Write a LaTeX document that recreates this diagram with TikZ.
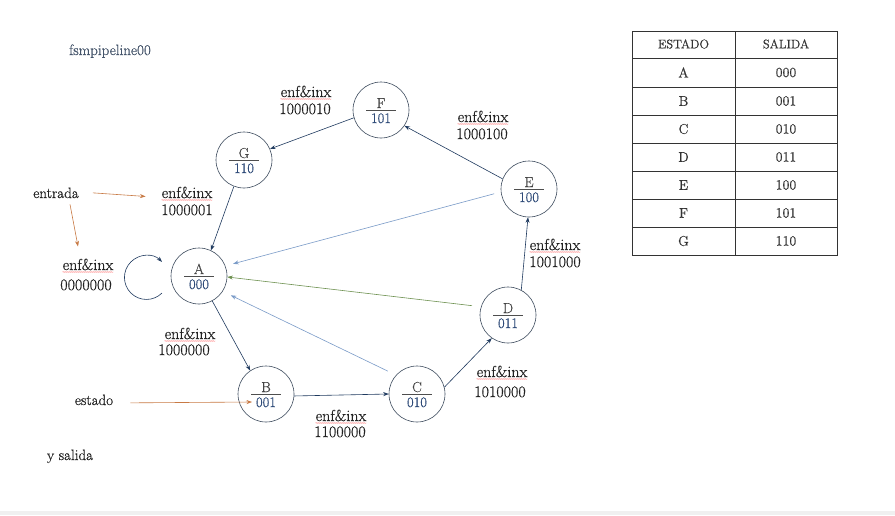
\documentclass[tikz,border=0pt]{standalone}
\usepackage{fontspec}
\setmainfont{Latin Modern Roman}[FakeBold=0.5]
\usetikzlibrary{arrows.meta,decorations.pathmorphing,calc}
\definecolor{navy}{HTML}{1F3A5F}
\definecolor{circc}{HTML}{3E4C5E}
\definecolor{lblue}{HTML}{7A9BC8}
\definecolor{lgreen}{HTML}{6E9150}
\definecolor{orng}{HTML}{C87A45}
\definecolor{txtg}{HTML}{222222}
\definecolor{numblue}{HTML}{2E4A78}
\definecolor{titleblue}{HTML}{44546A}
\definecolor{tabg}{HTML}{333333}
\newcommand\mkst[5]{%
  \node[stcirc] (#1) at (#2,#3) {};
  \node[stlet] (#1l) at ([yshift=2pt]#1.center) {#4};
  \node[stnum] (#1n) at ([yshift=-13pt]#1.center) {#5};
  \draw[fracline] ([xshift=-15pt]#1.center) -- ([xshift=15pt]#1.center);
}
\newcommand\mklab[6]{%
  \node[labt] (#1a) at (#2,#3) {enf\&inx};
  \node[labt] (#1b) at (#6,#4) {#5};
  \draw[wave] ([yshift=-2pt]#1a.base west) -- ([yshift=-2pt]#1a.base east);
}
\tikzset{
  stcirc/.style={circle, draw=circc, line width=0.6pt, minimum size=56pt, inner sep=0pt},
  stlet/.style={anchor=base, inner sep=0pt, text=txtg!85, font=\fontsize{14.5}{16}\selectfont},
  stnum/.style={anchor=base, inner sep=0pt, text=numblue, font=\fontsize{14.5}{16}\selectfont},
  fracline/.style={draw=txtg!80, line width=0.6pt},
  labt/.style={anchor=base, inner sep=0pt, text=txtg, font=\fontsize{16}{18}\selectfont},
  plaint/.style={anchor=base, inner sep=0pt, text=txtg, font=\fontsize{15}{17}\selectfont},
  wave/.style={draw=red!55, line width=0.3pt, decorate, decoration={snake, amplitude=0.5pt, segment length=2pt}},
  arr/.style={line width=0.6pt, -{Stealth[length=5.5pt,width=4pt]}},
  navyarr/.style={arr, draw=navy},
  bluearr/.style={arr, draw=lblue},
  greenarr/.style={arr, draw=lgreen},
  orarr/.style={arr, draw=orng},
  tabline/.style={draw=tabg, line width=0.7pt},
  tabt/.style={inner sep=0pt, text=tabg, font=\fontsize{14}{15}\selectfont},
  tabh/.style={inner sep=0pt, text=tabg, font=\fontsize{12.5}{14}\selectfont},
}
\begin{document}
\begin{tikzpicture}[x=1pt,y=-1pt]
\useasboundingbox (0,0) rectangle (895,515);
\fill[white] (0,0) rectangle (895,515);
\fill[gray!12] (0,511) rectangle (895,515);

% title and side texts
\node[plaint, text=titleblue] (title) at (110,55) {fsmpipeline00};
\node[plaint] (ent) at (56,198) {entrada};
\node[plaint] (est) at (94,405) {estado};
\node[plaint] (ysal) at (70,460) {y salida};

% states
\mkst{A}{199}{276}{A}{000}
\mkst{B}{266}{394}{B}{001}
\mkst{C}{417}{394}{C}{010}
\mkst{D}{508}{315}{D}{011}
\mkst{E}{529}{189}{E}{100}
\mkst{F}{381}{110}{F}{101}
\mkst{G}{244}{160}{G}{110}

% transition labels
\mklab{La}{306}{97}{114}{1000010}{305}
\mklab{Lb}{483}{122}{139}{1000100}{482}
\mklab{Lc}{187}{198}{215}{1000001}{187}
\mklab{Ld}{88}{270}{290}{0000000}{86}
\mklab{Le}{190}{339}{355}{1000000}{184}
\mklab{Lf}{341}{421}{437}{1100000}{340}
\mklab{Lg}{502}{377}{397}{1010000}{500}
\mklab{Lh}{555}{250}{267}{1001000}{555}

% transitions
\draw[navyarr] (F.196) -- (G.23);
\draw[navyarr] (G.249) -- (A.65);
\draw[navyarr] (A.298) -- (B.124);
\draw[navyarr] (B.356) -- (C.180);
\draw[navyarr] (C.14) -- (D.235);
\draw[navyarr] (D.62) -- (E.268);
\draw[navyarr] (E.159) -- (F.326);
\draw[bluearr, shorten <=7pt, shorten >=8pt] (E.186) -- (A.21);
\draw[greenarr, shorten <=9pt] (D.163) -- (A.358);
\draw[bluearr, shorten <=9pt, shorten >=9pt] (C.138) -- (A.327);

% self loop on A
\coordinate (ls) at (162,293);
\draw[navyarr] (ls) arc[start angle=45, end angle=315, radius=22];

% annotation arrows
\draw[orarr] ([xshift=14pt]ent.east) -- ([xshift=-16pt,yshift=-4pt]Lca.west);
\draw[orarr] ([xshift=14pt,yshift=-6pt]ent.south) -- ([xshift=-10pt,yshift=12pt]Lda.north);
\draw[orarr] ([xshift=17pt,yshift=-3pt]est.east) -- ([xshift=-14pt,yshift=-8pt]B.center);

% table
\draw[tabline] (632,31) rectangle (837,255);
\draw[tabline] (735,31) -- (735,255);
\foreach \yy in {58,87,115,143,171,199,227}{\draw[tabline] (632,\yy) -- (837,\yy);}
\node[tabh] (h1) at (683.5,44) {ESTADO};
\node[tabh] (h2) at (786,44) {SALIDA};
\foreach \s/\o/\yy [count=\i] in {A/000/72.5, B/001/101, C/010/129, D/011/157, E/100/185, F/101/213, G/110/241}{
  \node[tabt] (ts\i) at (683.5,\yy) {\s};
  \node[tabt] (to\i) at (786,\yy) {\o};
}
\end{tikzpicture}
\end{document}
